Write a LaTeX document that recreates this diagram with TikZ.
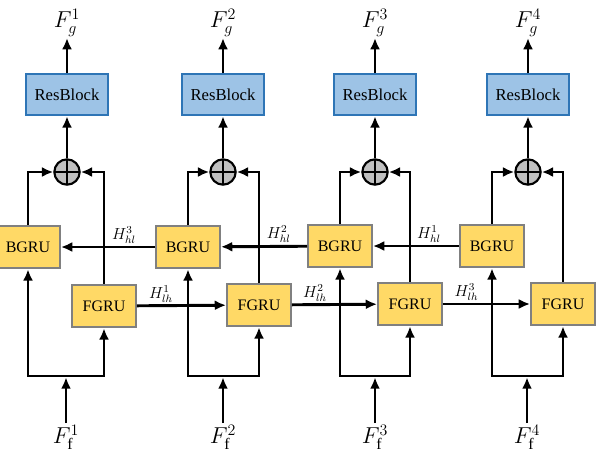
\documentclass[tikz,border=0pt]{standalone}
\usepackage{fontspec}
\setmainfont{Liberation Serif}
\usepackage{amsmath}
\usetikzlibrary{arrows,arrows.meta,positioning}
\definecolor{resblue}{HTML}{9DC3E6}
\definecolor{resedge}{HTML}{2E75B6}
\definecolor{grugold}{HTML}{FFD966}
\definecolor{gruedge}{HTML}{808080}
\definecolor{sumgray}{HTML}{C0C0C0}
\tikzset{
    resblock/.style = {draw=resedge, fill=resblue, line width=1.4pt, rectangle,
        minimum height=31pt,
        minimum width=62pt, align=center, font=\fontsize{12.5}{14}\selectfont},
    gru/.style = {draw=gruedge, fill=grugold, line width=1.4pt, rectangle,
        minimum height=32pt,
        minimum width=48pt, align=center, font=\fontsize{12}{14}\selectfont},
    sum/.style = {draw, circle, fill=sumgray, minimum size=19pt, inner sep=0pt, line width=1.6pt,
        path picture={\draw[line width=1.2pt] (path picture bounding box.north) -- (path picture bounding box.south)
            (path picture bounding box.west) -- (path picture bounding box.east);}},
    feat/.style = {font=\LARGE, inner sep=1pt},
    hid/.style = {font=\large, inner sep=1.5pt},
    arrow/.style = {draw, ->, line width=2.2pt}
}

\begin{document}
\begin{tikzpicture}[x=0.75pt, y=-0.75pt, >={Latex[length=8.5pt,width=7.5pt]}]
    \useasboundingbox (0,0) rectangle (600,454);
    % fusion and output
    \node [sum] (s1) at (67,172) {};
    \node [sum] (s2) at (223,172) {};
    \node [sum] (s3) at (375,172) {};
    \node [sum] (s4) at (528,172) {};
    \node [resblock, above of=s1, node distance=58pt] (rb1) {ResBlock};
    \node [resblock, above of=s2, node distance=58pt] (rb2) {ResBlock};
    \node [resblock, above of=s3, node distance=58pt] (rb3) {ResBlock};
    \node [resblock, above of=s4, node distance=58pt] (rb4) {ResBlock};
    \node [feat, above of=rb1, node distance=54pt] (g1) {$F_g^1$};
    \node [feat, above of=rb2, node distance=54pt] (g2) {$F_g^2$};
    \node [feat, above of=rb3, node distance=54pt] (g3) {$F_g^3$};
    \node [feat, above of=rb4, node distance=54pt] (g4) {$F_g^4$};
    % recurrent units
    \node [gru] (b1) at (28,247) {BGRU};
    \node [gru] (b2) at (188,247) {BGRU};
    \node [gru] (b3) at (340,246) {BGRU};
    \node [gru] (b4) at (492,246) {BGRU};
    \node [gru] (f1) at (104,306) {FGRU};
    \node [gru] (f2) at (259,305) {FGRU};
    \node [gru] (f3) at (410,304) {FGRU};
    \node [gru] (f4) at (563,304) {FGRU};
    % inputs
    \coordinate (c1) at (66,376);
    \coordinate (c2) at (223,376);
    \coordinate (c3) at (375,376);
    \coordinate (c4) at (527,376);
    \node [feat, below of=c1, node distance=46pt] (in1) {$F_{\mathrm{f}}^1$};
    \node [feat, below of=c2, node distance=46pt] (in2) {$F_{\mathrm{f}}^2$};
    \node [feat, below of=c3, node distance=46pt] (in3) {$F_{\mathrm{f}}^3$};
    \node [feat, below of=c4, node distance=46pt] (in4) {$F_{\mathrm{f}}^4$};

    \draw [arrow] (s1) -- (rb1);
    \draw [arrow] (s2) -- (rb2);
    \draw [arrow] (s3) -- (rb3);
    \draw [arrow] (s4) -- (rb4);
    \draw [arrow] (rb1) -- (g1);
    \draw [arrow] (rb2) -- (g2);
    \draw [arrow] (rb3) -- (g3);
    \draw [arrow] (rb4) -- (g4);
    \draw [arrow] (b1) |- (s1);
    \draw [arrow] (b2) |- (s2);
    \draw [arrow] (b3) |- (s3);
    \draw [arrow] (b4) |- (s4);
    \draw [arrow] (f1) |- (s1);
    \draw [arrow] (f2) |- (s2);
    \draw [arrow] (f3) |- (s3);
    \draw [arrow] (f4) |- (s4);
    % hidden states
    \draw [arrow] (b2) -- node [hid, above, pos=0.33] {$H_{hl}^3$} (b1);
    \draw [arrow] (b3) -- node [hid, above, pos=0.33] {$H_{hl}^2$} (b2);
    \draw [arrow] (b4) -- node [hid, above, pos=0.35] {$H_{hl}^1$} (b3);
    \draw [arrow] (f1) -- node [hid, above, pos=0.27] {$H_{lh}^1$} (f2);
    \draw [arrow] (f2) -- node [hid, above, pos=0.27] {$H_{lh}^2$} (f3);
    \draw [arrow] (f3) -- node [hid, above, pos=0.27] {$H_{lh}^3$} (f4);
    % input split
    \draw [arrow] (c1) -| (b1);
    \draw [arrow] (c1) -| (f1);
    \draw [arrow] (c2) -| (b2);
    \draw [arrow] (c2) -| (f2);
    \draw [arrow] (c3) -| (b3);
    \draw [arrow] (c3) -| (f3);
    \draw [arrow] (c4) -| (b4);
    \draw [arrow] (c4) -| (f4);
    \draw [arrow, shorten >=1pt] (in1) -- (c1);
    \draw [arrow, shorten >=1pt] (in2) -- (c2);
    \draw [arrow, shorten >=1pt] (in3) -- (c3);
    \draw [arrow, shorten >=1pt] (in4) -- (c4);
\end{tikzpicture}
\end{document}
